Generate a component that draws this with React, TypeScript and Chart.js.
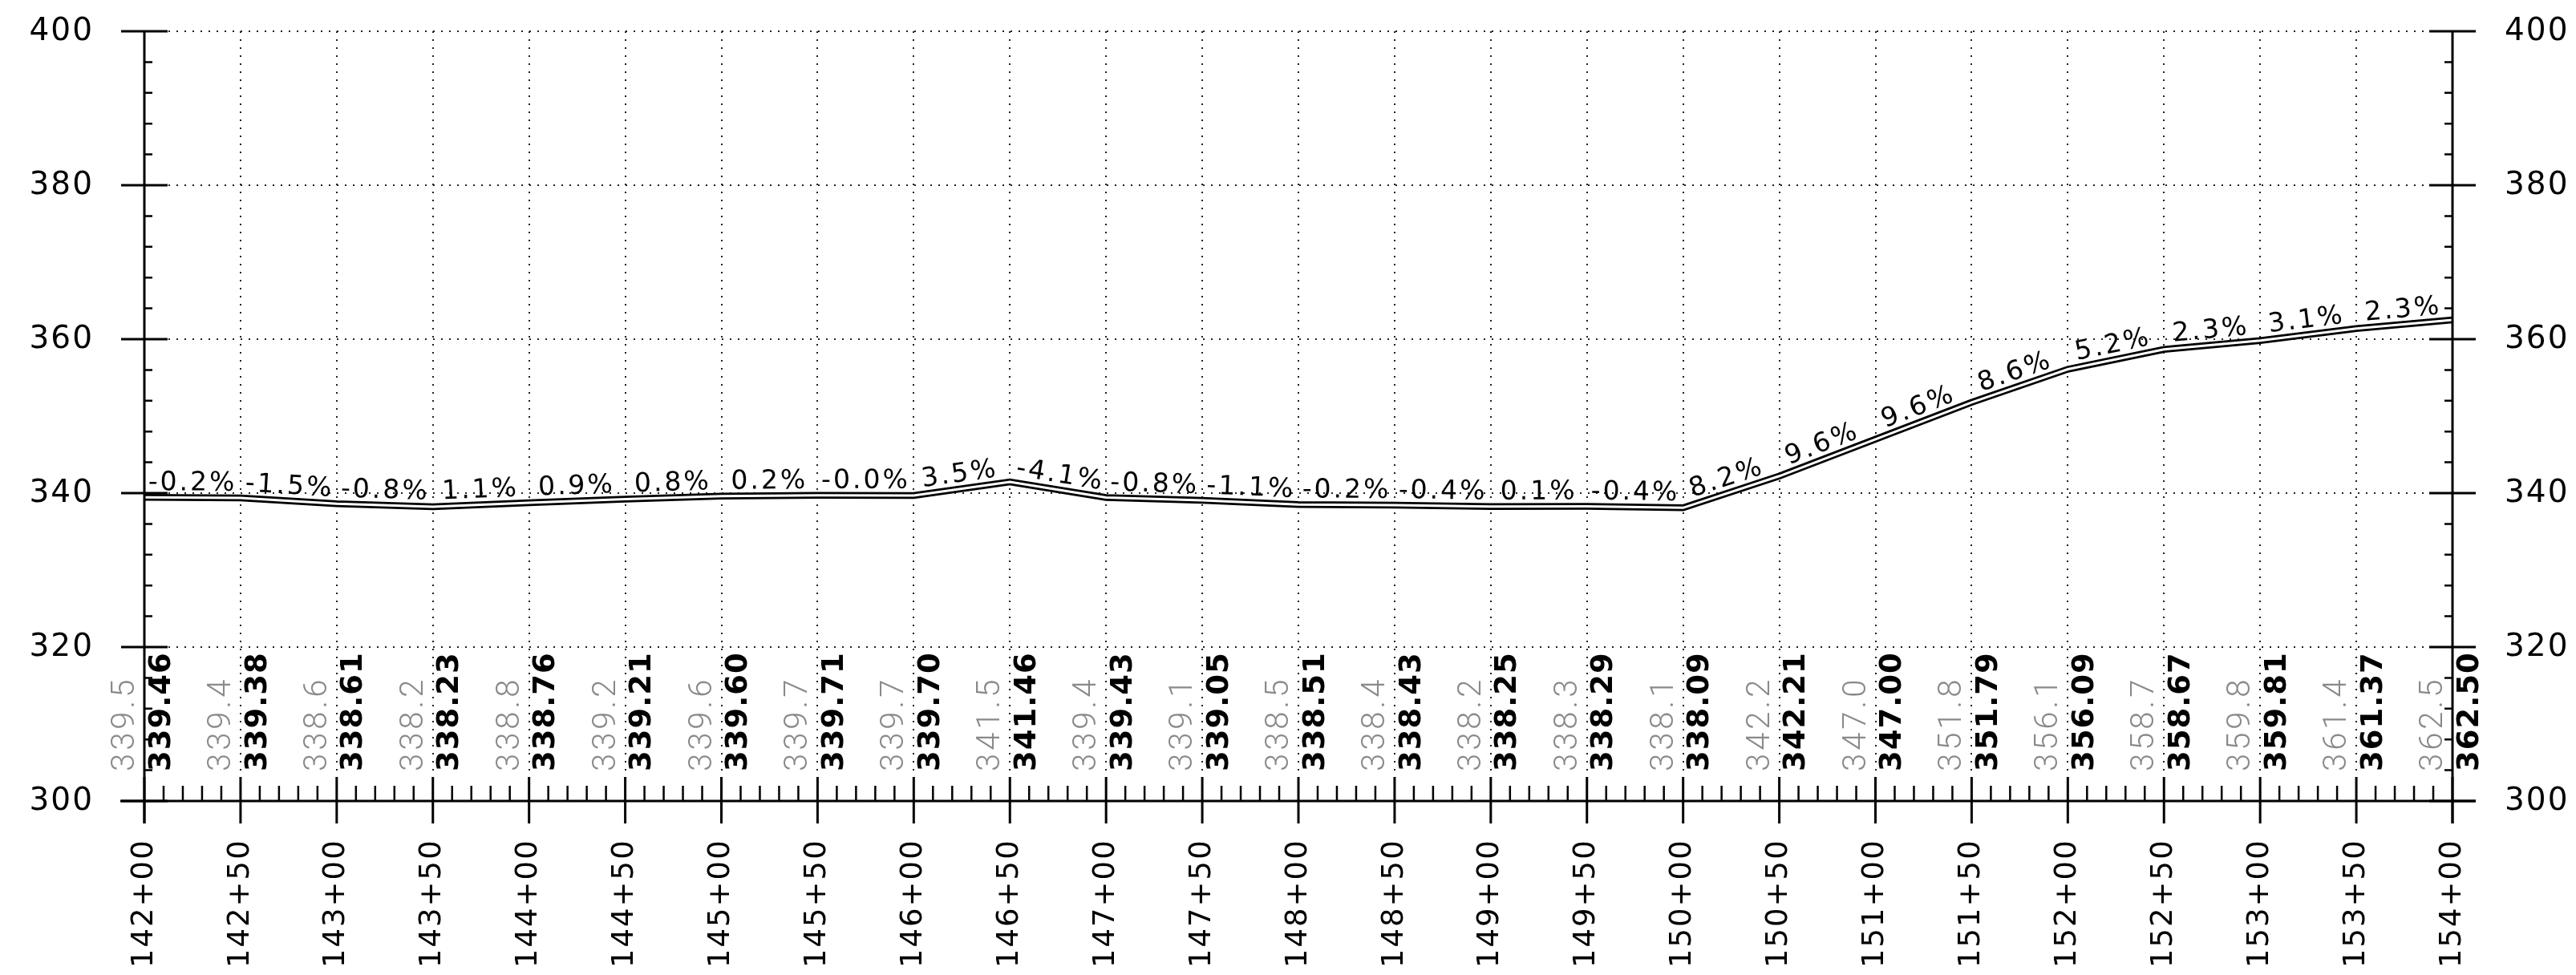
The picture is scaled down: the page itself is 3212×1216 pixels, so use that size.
import { useEffect, useRef } from 'react';
import { Chart, registerables } from 'chart.js';

Chart.register(...registerables);

// Stations (feet) along the alignment, one every 50 ft
const stations = [
  14200, 14250, 14300, 14350, 14400, 14450, 14500, 14550, 14600, 14650, 14700, 14750,
  14800, 14850, 14900, 14950, 15000, 15050, 15100, 15150, 15200, 15250, 15300, 15350, 15400,
];
const stationLabels = [
  '142+00', '142+50', '143+00', '143+50', '144+00', '144+50', '145+00', '145+50', '146+00',
  '146+50', '147+00', '147+50', '148+00', '148+50', '149+00', '149+50', '150+00', '150+50',
  '151+00', '151+50', '152+00', '152+50', '153+00', '153+50', '154+00',
];
// Proposed profile elevations (bold labels)
const proposed = [
  339.46, 339.38, 338.61, 338.23, 338.76, 339.21, 339.6, 339.71, 339.7, 341.46, 339.43, 339.05,
  338.51, 338.43, 338.25, 338.29, 338.09, 342.21, 347.0, 351.79, 356.09, 358.67, 359.81, 361.37, 362.5,
];
const proposedLabels = [
  '339.46', '339.38', '338.61', '338.23', '338.76', '339.21', '339.60', '339.71', '339.70', '341.46',
  '339.43', '339.05', '338.51', '338.43', '338.25', '338.29', '338.09', '342.21', '347.00', '351.79',
  '356.09', '358.67', '359.81', '361.37', '362.50',
];
// Existing ground elevations (light labels)
const existing = [
  339.5, 339.4, 338.6, 338.2, 338.8, 339.2, 339.6, 339.7, 339.7, 341.5, 339.4, 339.1,
  338.5, 338.4, 338.2, 338.3, 338.1, 342.2, 347.0, 351.8, 356.1, 358.7, 359.8, 361.4, 362.5,
];
// Grade of each segment
const grades = [
  '-0.2%', '-1.5%', '-0.8%', '1.1%', '0.9%', '0.8%', '0.2%', '-0.0%', '3.5%', '-4.1%', '-0.8%', '-1.1%',
  '-0.2%', '-0.4%', '0.1%', '-0.4%', '8.2%', '9.6%', '9.6%', '8.6%', '5.2%', '2.3%', '3.1%', '2.3%',
];
const elevTicks = [300, 320, 340, 360, 380, 400];
const elevMinorStep = 4;
const stationMinorStep = 10;

const FONT = '"DejaVu Sans", "Noto Sans", sans-serif';
const LIGHT_FONT = 'Roboto, "DejaVu Sans", sans-serif';

const profilePlugin = {
  id: 'profileDecor',
  beforeDatasetsDraw(chart: any) {
    const { ctx, chartArea, scales } = chart;
    const x = scales.x;
    const y = scales.y;
    ctx.save();
    ctx.strokeStyle = '#222';
    ctx.lineWidth = 2;
    ctx.setLineDash([2, 8]);
    for (const v of elevTicks) {
      if (v === elevTicks[0]) continue;
      const py = Math.round(y.getPixelForValue(v));
      ctx.beginPath();
      ctx.moveTo(chartArea.left + 30, py);
      ctx.lineTo(chartArea.right - 30, py);
      ctx.stroke();
    }
    for (let i = 1; i < stations.length - 1; i++) {
      const px = Math.round(x.getPixelForValue(stations[i]));
      ctx.beginPath();
      ctx.moveTo(px, chartArea.top);
      ctx.lineTo(px, chartArea.bottom - 30);
      ctx.stroke();
    }
    ctx.restore();
  },
  afterDatasetsDraw(chart: any) {
    const { ctx, chartArea, scales } = chart;
    const x = scales.x;
    const y = scales.y;
    const L = chartArea.left;
    const R = chartArea.right;
    const T = chartArea.top;
    const B = chartArea.bottom;
    ctx.save();
    ctx.setLineDash([]);
    ctx.strokeStyle = '#000';
    ctx.lineCap = 'butt';

    // axes
    ctx.lineWidth = 3;
    ctx.beginPath();
    ctx.moveTo(L, T);
    ctx.lineTo(L, B + 28);
    ctx.moveTo(R, T);
    ctx.lineTo(R, B + 28);
    ctx.moveTo(L - 30, B);
    ctx.lineTo(R + 29, B);
    ctx.stroke();

    // elevation major ticks
    for (const v of elevTicks) {
      const py = y.getPixelForValue(v);
      ctx.beginPath();
      ctx.moveTo(L - 29, py);
      ctx.lineTo(L + 29, py);
      ctx.moveTo(R - 29, py);
      ctx.lineTo(R + 29, py);
      ctx.stroke();
    }
    // elevation minor ticks
    ctx.lineWidth = 2.5;
    const ymin = elevTicks[0];
    const ymax = elevTicks[elevTicks.length - 1];
    for (let v = ymin; v <= ymax; v += elevMinorStep) {
      if ((v - ymin) % 20 === 0) continue;
      const py = y.getPixelForValue(v);
      ctx.beginPath();
      ctx.moveTo(L, py);
      ctx.lineTo(L + 10, py);
      ctx.moveTo(R - 10, py);
      ctx.lineTo(R, py);
      ctx.stroke();
    }
    // station major ticks
    ctx.lineWidth = 3;
    for (const s of stations) {
      const px = x.getPixelForValue(s);
      ctx.beginPath();
      ctx.moveTo(px, B - 30);
      ctx.lineTo(px, B + 28);
      ctx.stroke();
    }
    // station minor ticks
    ctx.lineWidth = 2.5;
    for (let s = stations[0]; s < stations[stations.length - 1]; s += stationMinorStep) {
      if ((s - stations[0]) % 50 === 0) continue;
      const px = x.getPixelForValue(s);
      ctx.beginPath();
      ctx.moveTo(px, B - 19);
      ctx.lineTo(px, B);
      ctx.stroke();
    }

    // elevation labels
    ctx.fillStyle = '#000';
    ctx.font = `39px ${FONT}`;
    (ctx as any).letterSpacing = '2px';
    ctx.textBaseline = 'middle';
    for (const v of elevTicks) {
      const py = y.getPixelForValue(v) + 1;
      ctx.textAlign = 'right';
      ctx.fillText(String(v), L - 63, py);
      ctx.textAlign = 'left';
      ctx.fillText(String(v), R + 65, py);
    }

    // station labels (vertical)
    ctx.font = `37px ${FONT}`;
    (ctx as any).letterSpacing = '2px';
    stations.forEach((s, i) => {
      const px = x.getPixelForValue(s);
      ctx.save();
      ctx.translate(px, B + 208);
      ctx.rotate(-Math.PI / 2);
      ctx.textAlign = 'left';
      ctx.textBaseline = 'middle';
      ctx.fillText(stationLabels[i], 0, 0);
      ctx.restore();
    });

    // elevation values in band
    stations.forEach((s, i) => {
      const px = x.getPixelForValue(s);
      // existing (light)
      ctx.save();
      ctx.translate(px - 23, B - 37);
      ctx.rotate(-Math.PI / 2);
      ctx.textAlign = 'left';
      ctx.textBaseline = 'middle';
      ctx.fillStyle = '#8a8a8a';
      ctx.font = `300 40px ${LIGHT_FONT}`;
      (ctx as any).letterSpacing = '4px';
      ctx.fillText(existing[i].toFixed(1), 0, 0);
      ctx.restore();
      // proposed (bold)
      ctx.save();
      ctx.translate(px + 22, B - 37);
      ctx.rotate(-Math.PI / 2);
      ctx.textAlign = 'left';
      ctx.textBaseline = 'middle';
      ctx.fillStyle = '#000';
      ctx.font = `bold 37px ${FONT}`;
      (ctx as any).letterSpacing = '1px';
      ctx.fillText(proposedLabels[i], 0, 0);
      ctx.restore();
    });

    // grade labels along segments
    ctx.font = `33px ${FONT}`;
    (ctx as any).letterSpacing = '3px';
    ctx.fillStyle = '#000';
    for (let i = 0; i < grades.length; i++) {
      const x1 = x.getPixelForValue(stations[i]);
      const y1 = y.getPixelForValue(proposed[i]);
      const x2 = x.getPixelForValue(stations[i + 1]);
      const y2 = y.getPixelForValue(proposed[i + 1]);
      const ang = Math.atan2(y2 - y1, x2 - x1);
      ctx.save();
      ctx.translate((x1 + x2) / 2, (y1 + y2) / 2);
      ctx.rotate(ang);
      ctx.textAlign = 'center';
      ctx.textBaseline = 'alphabetic';
      ctx.fillText(grades[i], 0, -9);
      ctx.restore();
    }
    ctx.restore();
  },
};

export default function App() {
  const ref = useRef<HTMLCanvasElement | null>(null);
  useEffect(() => {
    if (!ref.current) return;
    const pts = (arr: number[]) => stations.map((s, i) => ({ x: s, y: arr[i] }));
    const chart = new Chart(ref.current, {
      type: 'line',
      data: {
        datasets: [
          {
            label: 'Proposed (inner)',
            data: pts(proposed),
            borderColor: '#ffffff',
            borderWidth: 3,
            pointRadius: 0,
            tension: 0,
            order: 0,
          },
          {
            label: 'Proposed',
            data: pts(proposed),
            borderColor: '#000000',
            borderWidth: 8.5,
            pointRadius: 0,
            tension: 0,
            order: 1,
          },
          {
            label: 'Existing ground',
            data: pts(existing),
            borderColor: '#000000',
            borderWidth: 1.5,
            borderDash: [12, 6],
            pointRadius: 0,
            tension: 0,
            order: 2,
          },
        ],
      },
      options: {
        animation: false,
        responsive: true,
        maintainAspectRatio: false,
        devicePixelRatio: 1,
        layout: { padding: { left: 180, right: 154, top: 39, bottom: 217 } },
        scales: {
          x: { type: 'linear', min: stations[0], max: stations[stations.length - 1], display: false },
          y: { type: 'linear', min: elevTicks[0], max: elevTicks[elevTicks.length - 1], display: false },
        },
        plugins: { legend: { display: false }, tooltip: { enabled: false } },
        events: [],
      },
      plugins: [profilePlugin],
    });
    return () => chart.destroy();
  }, []);
  return (
    <div
      style={{
        position: 'fixed',
        left: 0,
        top: 0,
        width: 3212,
        height: 1216,
        background: '#ffffff',
      }}
    >
      <canvas ref={ref} />
    </div>
  );
}
